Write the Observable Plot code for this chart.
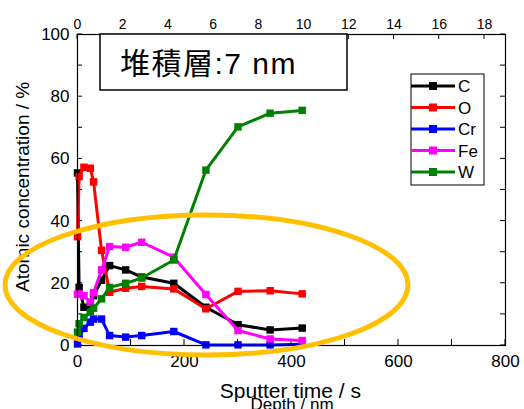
<!DOCTYPE html>
<html><head><meta charset="utf-8">
<script src="https://cdn.jsdelivr.net/npm/d3@7"></script>
<script src="https://cdn.jsdelivr.net/npm/@observablehq/plot@0.6"></script>
<style>
html,body{margin:0;padding:0;background:#fff;overflow:hidden}
</style>
</head><body><div id="chart"></div>
<script>
// Sputter time (s)
const time = [0, 3, 12, 24, 30, 45, 60, 90, 120, 180, 240, 300, 360, 420];
// Atomic concentration (%)
const C  = [55.5, 18.7, 12.3, 13, 16, 21, 25.7, 24.3, 22, 20, 12.3, 6.7, 5, 5.6];
const O  = [35, 54.3, 57.3, 57, 52.6, 30.6, 17.1, 18.4, 19, 18.2, 11.8, 17.4, 17.6, 16.6];
const Cr = [0.5, 3, 5.5, 7.5, 8.5, 8.5, 3.2, 2.7, 3.2, 4.5, 0.2, 0.2, 0.2, 0.4];
const Fe = [16.5, 16.6, 16, 13.9, 17, 24.3, 31.8, 31.6, 33.2, 28.4, 16.4, 4.8, 2.1, 1.6];
const W  = [4.3, 7, 9, 10.7, 12, 15, 18.7, 20, 21.7, 27.5, 56.4, 70.3, 74.7, 75.6];

const elements = ["C", "O", "Cr", "Fe", "W"];
const seriesValues = [C, O, Cr, Fe, W];
const colors = ["#000000", "#ff0000", "#0000ff", "#ff00ff", "#008000"];

const xTicks = [0, 200, 400, 600, 800];
const yTicks = [0, 20, 40, 60, 80, 100];
const depthTicks = [0, 2, 4, 6, 8, 10, 12, 14, 16, 18];
const secondsPerNm = 42.26;

const xLabel = "Sputter time / s";
const x2Label = "Depth / nm";
const yLabel = "Atomic concentration / %";
const annotation = "堆積層:7 nm";

const font = "'Liberation Sans', Arial, 'Noto Sans CJK JP', sans-serif";

const seriesMarks = elements.flatMap((el, k) => {
  const rows = time.map((t, i) => ({t, v: seriesValues[k][i]}));
  return [
    Plot.line(rows, {x: "t", y: "v", stroke: colors[k], strokeWidth: 3}),
    Plot.dot(rows, {x: "t", y: "v", fill: colors[k], symbol: "square", r: 4.2})
  ];
});

const plot = Plot.plot({
  width: 524, height: 409,
  marginLeft: 77, marginRight: 19, marginTop: 34, marginBottom: 64,
  style: {fontFamily: font, background: "#fff", color: "#000"},
  x: {domain: [0, 800]},
  y: {domain: [0, 100]},
  marks: [
    Plot.axisX({ticks: xTicks, tickSize: 0, tickPadding: 9, fontSize: 17, label: null, tickFormat: d => String(d)}),
    Plot.axisY({ticks: yTicks, tickSize: 0, tickPadding: 8, fontSize: 17, label: null, tickFormat: d => String(d)}),
    Plot.text(depthTicks, {x: d => d * secondsPerNm, frameAnchor: "top", dy: -15, text: d => String(d), fontSize: 14}),
    Plot.text([xLabel], {frameAnchor: "bottom", dy: 52, text: d => d, fontSize: 21, x: 398, textAnchor: "middle"}),
    Plot.text([x2Label], {frameAnchor: "bottom", dy: 64, text: d => d, fontSize: 17, x: 401, textAnchor: "middle"}),
    Plot.text([yLabel], {frameAnchor: "left", dx: -55, rotate: -90, text: d => d, fontSize: 19, y: 51, textAnchor: "middle"}),
    ...seriesMarks,
    Plot.frame({stroke: "#000", strokeWidth: 1.2})
  ]
});

document.getElementById("chart").appendChild(plot);

const svg = d3.select(plot);
const xs = plot.scale("x"), ys = plot.scale("y");
const X = v => xs.apply(v), Y = v => ys.apply(v);
const x0 = X(0), x1 = X(800), y0 = Y(0), y1 = Y(100);

// inward ticks
const tg = svg.insert("g", ":first-child").attr("stroke", "#000").attr("stroke-width", 1);
d3.range(0, 801, 100).forEach(v => {
  tg.append("line").attr("x1", X(v)).attr("x2", X(v)).attr("y1", y0).attr("y2", y0 - 6);
});
depthTicks.forEach(d => {
  tg.append("line").attr("x1", X(d * secondsPerNm)).attr("x2", X(d * secondsPerNm)).attr("y1", y1).attr("y2", y1 + 5);
});
d3.range(0, 101, 10).forEach(v => {
  tg.append("line").attr("x1", x0).attr("x2", x0 + 5).attr("y1", Y(v)).attr("y2", Y(v));
  tg.append("line").attr("x1", x1).attr("x2", x1 - 5).attr("y1", Y(v)).attr("y2", Y(v));
});

// annotation box
const ag = svg.append("g");
ag.append("rect").attr("x", 100).attr("y", y1).attr("width", 247).attr("height", 56)
  .attr("fill", "#fff").attr("stroke", "#000").attr("stroke-width", 1.5);
ag.append("text").attr("x", 120).attr("y", y1 + 40).attr("font-size", 30)
  .attr("text-anchor", "start").attr("letter-spacing", 1.5)
  .attr("font-family", font).attr("fill", "#000").text(annotation);

// legend
const lg = svg.append("g");
lg.append("rect").attr("x", 411).attr("y", 74).attr("width", 73).attr("height", 111)
  .attr("fill", "#fff").attr("stroke", "#000").attr("stroke-width", 1);
elements.forEach((el, k) => {
  const yy = 86 + k * 21.5;
  lg.append("line").attr("x1", 411).attr("x2", 455).attr("y1", yy).attr("y2", yy)
    .attr("stroke", colors[k]).attr("stroke-width", 3);
  lg.append("rect").attr("x", 433 - 4).attr("y", yy - 4).attr("width", 8).attr("height", 8).attr("fill", colors[k]);
  lg.append("text").attr("x", 458).attr("y", yy).attr("dy", "0.36em").attr("font-size", 17)
    .attr("text-anchor", "start")
    .attr("font-family", font).attr("fill", "#000").text(el);
});

// highlight ellipse
svg.append("ellipse").attr("cx", 206.5).attr("cy", 285).attr("rx", 201.5).attr("ry", 70)
  .attr("fill", "none").attr("stroke", "#ffc000").attr("stroke-width", 5);
</script>
</body></html>
